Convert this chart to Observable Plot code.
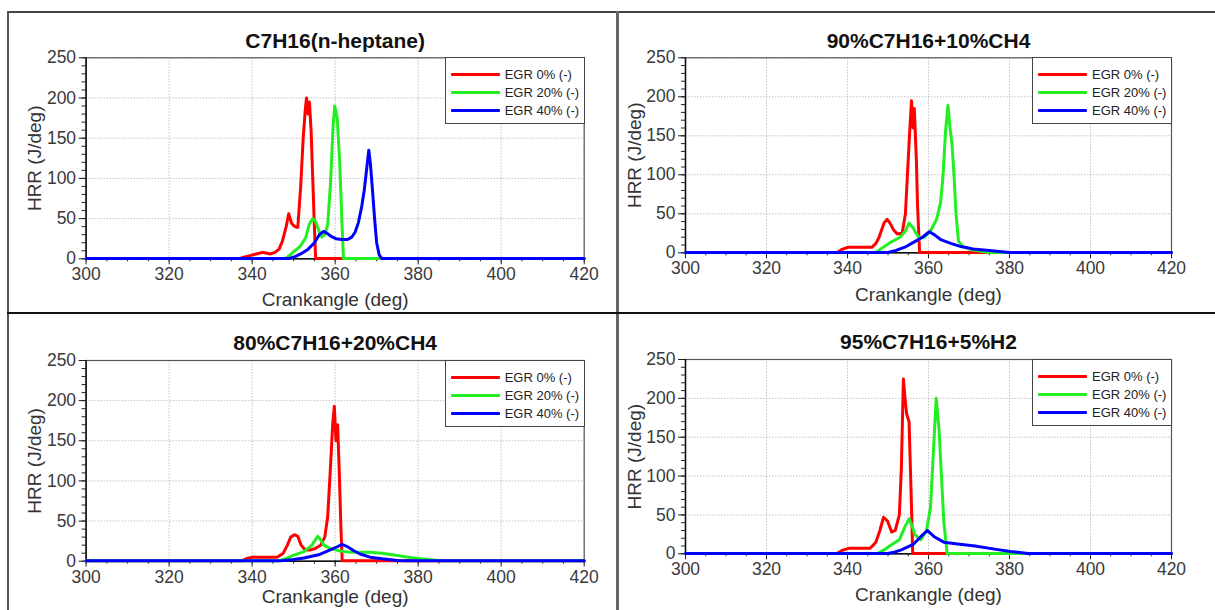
<!DOCTYPE html>
<html><head><meta charset="utf-8">
<script src="https://cdn.jsdelivr.net/npm/d3@7"></script>
<script src="https://cdn.jsdelivr.net/npm/@observablehq/plot@0.6"></script>
<style>
body{margin:0;background:#fff;font-family:"Liberation Sans",Arial,sans-serif;}
#page{position:relative;width:1215px;height:610px;overflow:hidden;background:#fff;}
.panel{position:absolute;overflow:hidden;}
.line{position:absolute;}
.legend{position:absolute;background:#fff;border:1.5px solid #444;box-sizing:border-box;}
.legend .sw{position:absolute;height:3px;border-radius:1px;}
.legend .lb{position:absolute;font-size:13px;line-height:13px;color:#222;white-space:nowrap;}
</style>
</head><body><div id="page"></div>
<script>
// ---- data ----
const panelTitles = ["C7H16(n-heptane)", "90%C7H16+10%CH4", "80%C7H16+20%CH4", "95%C7H16+5%H2"];
const seriesNames = ["EGR 0% (-)", "EGR 20% (-)", "EGR 40% (-)"];
const seriesColors = ["#ff0000", "#22ee22", "#0000ff"];
const xTicks = [300, 320, 340, 360, 380, 400, 420];
const yTicks = [0, 50, 100, 150, 200, 250];
const xLabel = "Crankangle (deg)";
const yLabel = "HRR (J/deg)";

// Panel 1: C7H16
const p1_egr0 = [[300,0.5],[337,0.5],[338,2],[339.5,4],[341,6],[342.5,8],[343.5,7],[344.5,6],[345.5,8],[346.5,12],[347.3,22],[348.2,40],[348.8,56],[349.5,44],[350.3,40],[351,39],[351.7,90],[352.3,150],[352.8,185],[353.1,200],[353.5,180],[353.8,195],[354.2,160],[354.6,100],[355,40],[355.3,0.5],[420,0.5]];
const p1_egr20 = [[300,0.5],[348,0.5],[349,4],[350,9],[351.5,15],[352.9,26],[353.7,42],[354.6,50],[355.3,46],[356,36],[356.8,27],[357.5,30],[358.2,42],[358.9,95],[359.5,165],[359.9,190],[360.5,175],[361.1,120],[361.6,50],[362,0.5],[420,0.5]];
const p1_egr40 = [[300,0.5],[349,0.5],[350.5,3],[352,7],[353.5,12],[355,20],[356.2,30],[357.2,34],[358,32],[359,28],[360.2,25],[361.5,24],[363,24],[364,27],[364.8,33],[365.6,45],[366.4,65],[367,85],[367.6,112],[368.1,135],[368.5,118],[369,85],[369.5,50],[370,20],[370.6,5],[371.2,0.5],[420,0.5]];
// Panel 2: 90%C7H16+10%CH4
const p2_egr0 = [[300,0.5],[337.5,0.5],[338.5,4],[340,7],[346,7],[347,12],[347.8,20],[349,38],[349.8,43],[350.5,38],[351.3,30],[352.3,24],[353.5,25],[354.3,50],[354.8,100],[355.3,150],[355.8,195],[356.2,160],[356.5,185],[357,120],[357.3,60],[357.8,0.5],[420,0.5]];
const p2_egr20 = [[300,0.5],[347,0.5],[348.5,6],[350.5,13],[353,20],[354.3,28],[355.2,38],[356.2,32],[357,24],[357.8,19],[359,20],[360.5,28],[362,43],[363,65],[363.6,100],[364.2,155],[364.8,189],[365.3,160],[365.8,140],[366.3,100],[366.8,50],[367.4,15],[368.5,8],[370.5,4],[373,2],[375,0.5],[420,0.5]];
const p2_egr40 = [[300,0.5],[350,0.5],[352,3],[354.5,8],[356.5,14],[358.5,20],[360.2,27],[361.5,23],[363,17],[365.5,12],[368,8],[371,5],[375,3],[380,0.5],[420,0.5]];
// Panel 3: 80%C7H16+20%CH4
const p3_egr0 = [[300,0.5],[337.5,0.5],[338.5,3],[340,5],[346,5],[347.5,10],[348.5,20],[349.3,30],[350.2,33],[351,31],[351.8,20],[352.8,14],[354,14],[355.3,16],[356.5,20],[357.5,30],[358.2,55],[358.8,110],[359.4,170],[359.8,193],[360.2,150],[360.6,170],[361,110],[361.4,40],[361.7,0.5],[420,0.5]];
const p3_egr20 = [[300,0.5],[346.5,0.5],[348,3],[349.7,7],[352.5,12],[354.4,20],[355.8,31],[356.6,26],[357.3,20],[358.8,16],[360.9,13],[363.7,11],[368.4,11],[371.3,10],[375,7],[378.8,4],[382.5,2],[385.3,0.5],[420,0.5]];
const p3_egr40 = [[300,0.5],[347,0.5],[350,2],[352.5,4],[356,8],[358.8,14],[360.5,18],[361.7,21],[363,18],[364.5,13],[366,9],[368.4,5],[371.3,3],[375,1],[377,0.5],[420,0.5]];
// Panel 4: 95%C7H16+5%H2
const p4_egr0 = [[300,0.5],[337.4,0.5],[338.5,4],[340.3,7],[345.6,7],[347,15],[348,30],[348.9,47],[349.9,42],[350.9,28],[351.8,30],[352.8,50],[353.3,110],[353.8,225],[354.2,200],[354.6,180],[355.2,170],[355.7,80],[356.1,0.5],[420,0.5]];
const p4_egr20 = [[300,0.5],[347.5,0.5],[349,5],[350.4,10],[352.8,18],[354.2,35],[355.2,45],[356,35],[356.6,25],[358.1,18],[359.5,30],[360.5,60],[361.2,130],[361.9,200],[362.6,160],[363.2,100],[363.8,40],[364.6,0.5],[420,0.5]];
const p4_egr40 = [[300,0.5],[349.9,0.5],[351.5,2],[353.3,5],[356.2,12],[358.1,22],[359.7,30],[361.4,22],[363.8,15],[366.7,13],[371.5,10],[376.3,6],[380.2,3],[384.6,0.5],[420,0.5]];

const panelSeries = [
  [p1_egr0, p1_egr20, p1_egr40],
  [p2_egr0, p2_egr20, p2_egr40],
  [p3_egr0, p3_egr20, p3_egr40],
  [p4_egr0, p4_egr20, p4_egr40]
];

// ---- layout (page coordinates) ----
const layout = [
  {box:[9,13,607,299],  frame:[85.6,583.7,57.3,258.3], xlab:41},
  {box:[619,13,596,299], frame:[685,1171,57.3,252.3], xlab:42},
  {box:[9,314,607,296], frame:[85.6,583.7,360,560.7], xlab:36},
  {box:[619,314,596,296], frame:[685,1171,359,553.3], xlab:41}
];

const page = document.getElementById("page");
function addLine(l,t,w,h,c){const d=document.createElement("div");d.className="line";Object.assign(d.style,{left:l+"px",top:t+"px",width:w+"px",height:h+"px",background:c});page.appendChild(d);}

const xMinor = d3.range(300, 421, 5);
const yMinor = d3.range(0, 251, 10);

panelSeries.forEach((series, i) => {
  const {box, frame, xlab} = layout[i];
  const [bl, bt, bw, bh] = box;
  const [fx0, fx1, fy0, fy1] = frame;
  const rows = [];
  series.forEach((s, k) => s.forEach(([x, y]) => rows.push({x, y, s: seriesNames[k]})));
  const chart = Plot.plot({
    width: bw, height: bh,
    marginLeft: fx0 - bl, marginRight: bl + bw - fx1,
    marginTop: fy0 - bt, marginBottom: bt + bh - fy1,
    style: {fontFamily: '"Liberation Sans", Arial, sans-serif', fontSize: "17px", color: "#333", background: "#fff", overflow: "visible"},
    x: {domain: [300, 420]},
    y: {domain: [0, 250]},
    color: {domain: seriesNames, range: seriesColors},
    marks: [
      Plot.gridX(xTicks, {stroke: "#aaa", strokeOpacity: 0.7, strokeDasharray: "1.5,1.5"}),
      Plot.gridY(yTicks, {stroke: "#aaa", strokeOpacity: 0.7, strokeDasharray: "1.5,1.5"}),
      Plot.frame({stroke: "#555", strokeWidth: 1.2}),
      Plot.axisX(xMinor, {tickSize: 3, text: null, label: null, stroke: "#222"}),
      Plot.axisX(xTicks, {tickSize: 6, tickPadding: 3, label: null, stroke: "#222", fill: "#3a3a3a", fontSize: 17.5}),
      Plot.axisY(yMinor, {tickSize: 4, text: null, label: null, stroke: "#222"}),
      Plot.axisY(yTicks, {tickSize: 7, tickPadding: 3, label: null, stroke: "#222", fill: "#3a3a3a", fontSize: 17.5}),
      Plot.ruleX([300], {stroke: "#111", strokeWidth: 1.5}),
      Plot.ruleY([0], {stroke: "#111", strokeWidth: 1.5}),
      Plot.line(rows, {x: "x", y: "y", z: "s", stroke: "s", strokeWidth: 3, strokeLinejoin: "round"}),
      Plot.text([panelTitles[i]], {frameAnchor: "top", lineAnchor: "middle", textAnchor: "middle", dy: -17, fontSize: 21, fontWeight: "bold", fill: "#111"}),
      Plot.text([xLabel], {frameAnchor: "bottom", lineAnchor: "middle", textAnchor: "middle", dy: xlab, fontSize: 19, fill: "#333"}),
      Plot.text([yLabel], {frameAnchor: "left", lineAnchor: "middle", textAnchor: "middle", dx: -51, rotate: -90, fontSize: 19, fill: "#333"})
    ]
  });
  const div = document.createElement("div");
  div.className = "panel";
  Object.assign(div.style, {left: bl + "px", top: bt + "px", width: bw + "px", height: bh + "px"});
  div.appendChild(chart);
  // legend
  const lg = document.createElement("div");
  lg.className = "legend";
  const lw = 140, lh = 67;
  Object.assign(lg.style, {left: (fx1 - bl - lw + 1) + "px", top: (fy0 - bt - 0.5) + "px", width: lw + "px", height: lh + "px"});
  seriesNames.forEach((n, k) => {
    const sw = document.createElement("div");
    sw.className = "sw";
    Object.assign(sw.style, {left: "5px", top: (15 + k * 18) + "px", width: "49px", background: seriesColors[k]});
    const lb = document.createElement("div");
    lb.className = "lb";
    lb.textContent = n;
    Object.assign(lb.style, {left: "59px", top: (10 + k * 18) + "px"});
    lg.appendChild(sw); lg.appendChild(lb);
  });
  div.appendChild(lg);
  page.appendChild(div);
});

// outer borders and dividers
addLine(7, 11, 1208, 2, "#444");
addLine(7, 11, 2, 599, "#555");
addLine(616, 11, 3, 599, "#666");
addLine(7, 312, 1208, 2, "#111");
</script>
</body></html>
